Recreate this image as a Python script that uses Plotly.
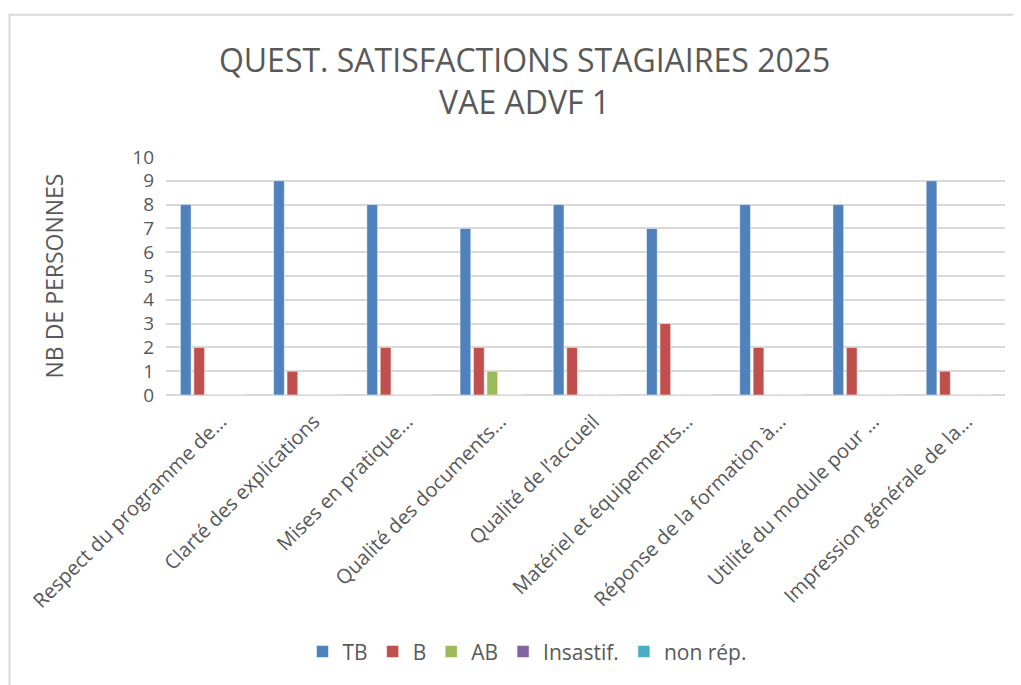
import plotly.graph_objects as go

categories = [
    "Respect du programme de…",
    "Clarté des explications",
    "Mises en pratique…",
    "Qualité des documents…",
    "Qualité de l’accueil",
    "Matériel et équipements…",
    "Réponse de la formation à…",
    "Utilité du module pour …",
    "Impression générale de la…",
]
tb = [8, 9, 8, 7, 8, 7, 8, 8, 9]
b = [2, 1, 2, 2, 2, 3, 2, 2, 1]
ab = [0, 0, 0, 1, 0, 0, 0, 0, 0]
insastif = [0, 0, 0, 0, 0, 0, 0, 0, 0]
non_rep = [0, 0, 0, 0, 0, 0, 0, 0, 0]

series = [
    ("TB", tb, "#4f81bd"),
    ("B", b, "#c0504d"),
    ("AB", ab, "#9bbb59"),
    ("Insastif.", insastif, "#8064a2"),
    ("non rép.", non_rep, "#4bacc6"),
]

W, H = 1013, 677
L, T, R, B = 158, 149, 16, 288
PW, PH = W - L - R, H - T - B

fig = go.Figure()
for name, vals, col in series:
    fig.add_trace(go.Bar(
        x=categories, y=vals, name=name,
        marker=dict(color=col, line=dict(color="rgba(255,255,255,0.5)", width=1)),
    ))

font_fam = "Open Sans, Liberation Sans, sans-serif"
fig.update_layout(
    width=W, height=H,
    paper_bgcolor="white", plot_bgcolor="white",
    margin=dict(l=L, r=R, t=T, b=B),
    barmode="group", bargap=0.28, bargroupgap=0.2,
    title=dict(
        text="QUEST. SATISFACTIONS STAGIAIRES 2025<br>VAE ADVF 1",
        x=0.51, xanchor="center", y=0.905, yanchor="middle",
        font=dict(family=font_fam, size=32, color="#595959"),
    ),
    font=dict(family=font_fam, color="#595959"),
    legend=dict(
        orientation="h", x=(527 - 8 - L) / PW, xanchor="center",
        y=(389 - 648) / PH, yanchor="middle",
        font=dict(size=21, color="#595959"), itemwidth=30, traceorder="normal",
        tracegroupgap=0,
    ),
    showlegend=True,
)
fig.update_yaxes(
    range=[0, 10], dtick=1, showgrid=True, gridcolor="#d9d9d9", gridwidth=1.5,
    zeroline=True, zerolinecolor="#d9d9d9", zerolinewidth=1.5,
    tickfont=dict(size=19, color="#595959"), ticks="", ticklabelstandoff=11,
    title=dict(text="NB DE PERSONNES", font=dict(size=23, color="#595959"), standoff=62),
    showline=False, automargin=False,
)
fig.update_xaxes(
    tickangle=-45, tickfont=dict(size=20, color="#595959"),
    showline=False, ticks="", showgrid=False, automargin=False,
    ticklabelstandoff=10, ticklabelshift=8,
)
fig.add_shape(
    type="rect", xref="paper", yref="paper",
    x0=(1.5 - L) / PW, x1=(1030 - L) / PW,
    y0=(389 - 700) / PH, y1=(389 - 5.5) / PH,
    line=dict(color="#d9d9d9", width=2), fillcolor="rgba(0,0,0,0)", layer="below",
)
fig.write_html("out.html")
